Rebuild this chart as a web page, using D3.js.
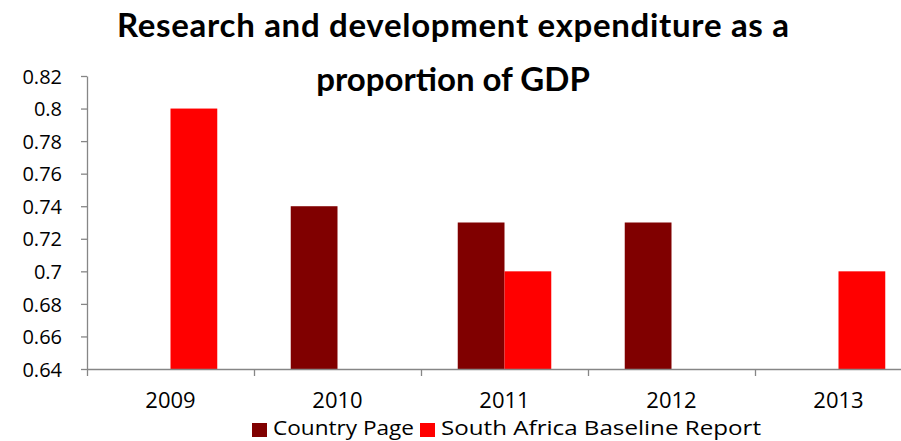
<!DOCTYPE html>
<html><head><meta charset="utf-8">
<script src="https://cdn.jsdelivr.net/npm/d3@7"></script>
<style>html,body{margin:0;padding:0;background:#fff;overflow:hidden}</style>
</head><body>
<svg id="c" width="901" height="441"></svg>
<script>
const years = ["2009","2010","2011","2012","2013"];
const seriesNames = ["Country Page","South Africa Baseline Report"];
const countryPage = [null, 0.74, 0.73, 0.73, null];
const baselineReport = [0.8, null, 0.7, null, 0.7];
const yTicks = [0.64,0.66,0.68,0.7,0.72,0.74,0.76,0.78,0.8,0.82];
const colors = ["#800000","#ff0000"];
const titleLines = ["Research and development expenditure as a","proportion of GDP"];

const svg = d3.select("#c");
const font = "'Open Sans', sans-serif";
const titleFont = "Lato, sans-serif";
const x0 = d3.scaleBand().domain(years).range([87, 922]).paddingInner(0.44).paddingOuter(0.22);
const x1 = d3.scaleBand().domain([0,1]).range([0, x0.bandwidth()]);
const y = d3.scaleLinear().domain([0.64, 0.82]).range([369, 76]);

// bars
const series = [countryPage, baselineReport];
series.forEach((vals, si) => {
  svg.append("g").selectAll("rect").data(years.map((yr,i)=>({yr, v: vals[i]})).filter(d=>d.v!=null))
    .join("rect")
    .attr("x", d => x0(d.yr) + x1(si))
    .attr("width", x1.bandwidth())
    .attr("y", d => y(d.v))
    .attr("height", d => y(0.64) - y(d.v))
    .attr("fill", colors[si]);
});

// y axis
const yAxis = svg.append("g").attr("transform","translate(87,0)")
  .call(d3.axisLeft(y).tickValues(yTicks).tickFormat(d=>String(+d.toFixed(2))).tickSize(6).tickSizeOuter(0));
// x axis
const xAxisScale = d3.scaleLinear().domain([0,5]).range([87,922]);
const xAxis = svg.append("g").attr("transform","translate(0,369)")
  .call(d3.axisBottom(xAxisScale).tickValues([0,1,2,3,4,5]).tickFormat("").tickSize(7).tickSizeOuter(0));
[yAxis, xAxis].forEach(g => {
  g.selectAll("path,line").attr("stroke","#868686").attr("stroke-width",1.3);
});
yAxis.selectAll("text").attr("font-family", font).attr("font-size", 20).attr("fill","#000").attr("x",-25).attr("dy","0.36em");

// x labels
svg.append("g").selectAll("text").data(years).join("text")
  .attr("x", d => x0(d) + x0.bandwidth()/2)
  .attr("y", 408)
  .attr("text-anchor","middle")
  .attr("font-family", font).attr("font-size", 22).attr("fill","#000")
  .text(d=>d);

// title
const tl = [672, null];
svg.append("g").selectAll("text").data(titleLines).join("text")
  .attr("x", 453).attr("y", (d,i)=> 37 + i*54)
  .attr("text-anchor","middle")
  .attr("font-family", titleFont).attr("font-size", 33).attr("font-weight","bold").attr("fill","#000")
  .attr("textLength", (d,i)=>tl[i]).attr("lengthAdjust","spacing")
  .text(d=>d);

// legend
const leg = svg.append("g");
const legItems = [{x:252, name: seriesNames[0], c: colors[0], w:141},{x:420, name: seriesNames[1], c: colors[1], w:320}];
legItems.forEach(it => {
  leg.append("rect").attr("x", it.x).attr("y", 423).attr("width", 15).attr("height", 14).attr("fill", it.c);
  leg.append("text").attr("x", it.x + 21).attr("y", 435)
    .attr("font-family", font).attr("font-size", 20).attr("fill","#000")
    .attr("textLength", it.w).attr("lengthAdjust","spacingAndGlyphs").text(it.name);
});
</script>
</body></html>
